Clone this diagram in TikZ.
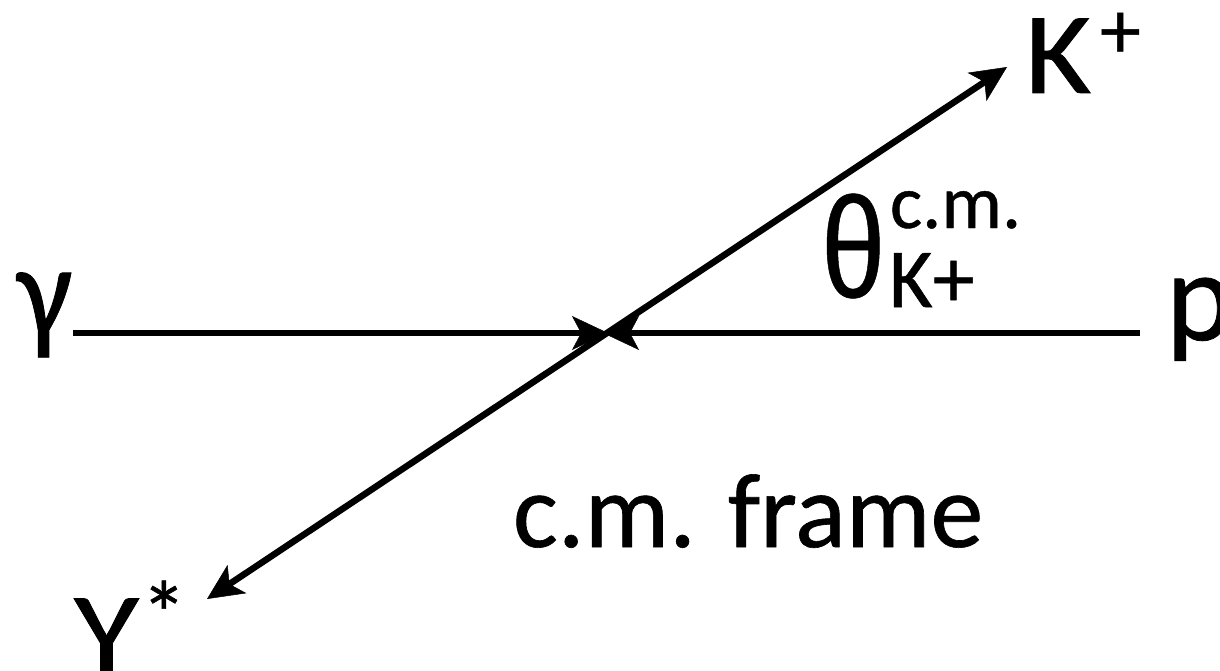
\documentclass[tikz,border=0pt]{standalone}
\usepackage{fontspec}
\setmainfont{Carlito}[FakeBold=0.6]
\newfontfamily\lsans{Liberation Sans}[FakeBold=0.4]
\usetikzlibrary{arrows.meta}
\tikzset{
  lbl/.style={inner sep=0pt, outer sep=0pt, anchor=base west, font=\fontsize{106}{110}\selectfont},
  slbl/.style={inner sep=0pt, outer sep=0pt, anchor=base west, font=\fontsize{76}{80}\selectfont},
  tip/.tip={Stealth[length=36pt,width=34pt,inset=9pt,line width=0.5pt]},
  beam/.style={line width=6.5pt, -tip},
  dbl/.style={line width=6.5pt, tip-tip}
}
\begin{document}
\begin{tikzpicture}[x=1pt,y=-1pt]
\useasboundingbox (0,0) rectangle (1220,671);
% labels
\node[lbl, font=\fontsize{118}{120}\selectfont] (gamma) at (17,336) {\scalebox{1.05}[1.12]{γ}};
\node[lbl, font=\fontsize{128}{130}\selectfont] (p) at (1166,340) {p};
\node[lbl, font=\fontsize{116}{120}\selectfont] (K) at (1025,93) {\scalebox{1.1}[1]{K}};
\node[slbl, font=\fontsize{82}{86}\selectfont] (Kp) at (1100,58) {+};
\node[lbl, font=\fontsize{122}{124}\selectfont\lsans] (theta) at (821,297) {\scalebox{0.95}[1.17]{θ}};
\node[slbl] (cm) at (890,228) {c.m.};
\node[slbl, font=\fontsize{84}{86}\selectfont] (Ksub) at (889,307) {K+};
\node[lbl] (frame) at (513,547) {c.m. frame};
\node[lbl, font=\fontsize{116}{120}\selectfont] (Y) at (74,673) {\scalebox{1.15}[1]{Y}};
\node[slbl, font=\fontsize{92}{96}\selectfont] (star) at (141,646) {*};
% connector end points
\coordinate (L) at (73,333);
\coordinate (R) at (1140,333);
\coordinate (C1) at (608,333);
\coordinate (C2) at (603,333);
\coordinate (A) at (1007,67);
\coordinate (B) at (207,599);
\draw[beam] (L) -- (C1);
\draw[beam] (R) -- (C2);
\draw[dbl] (B) -- (A);
\end{tikzpicture}
\end{document}
